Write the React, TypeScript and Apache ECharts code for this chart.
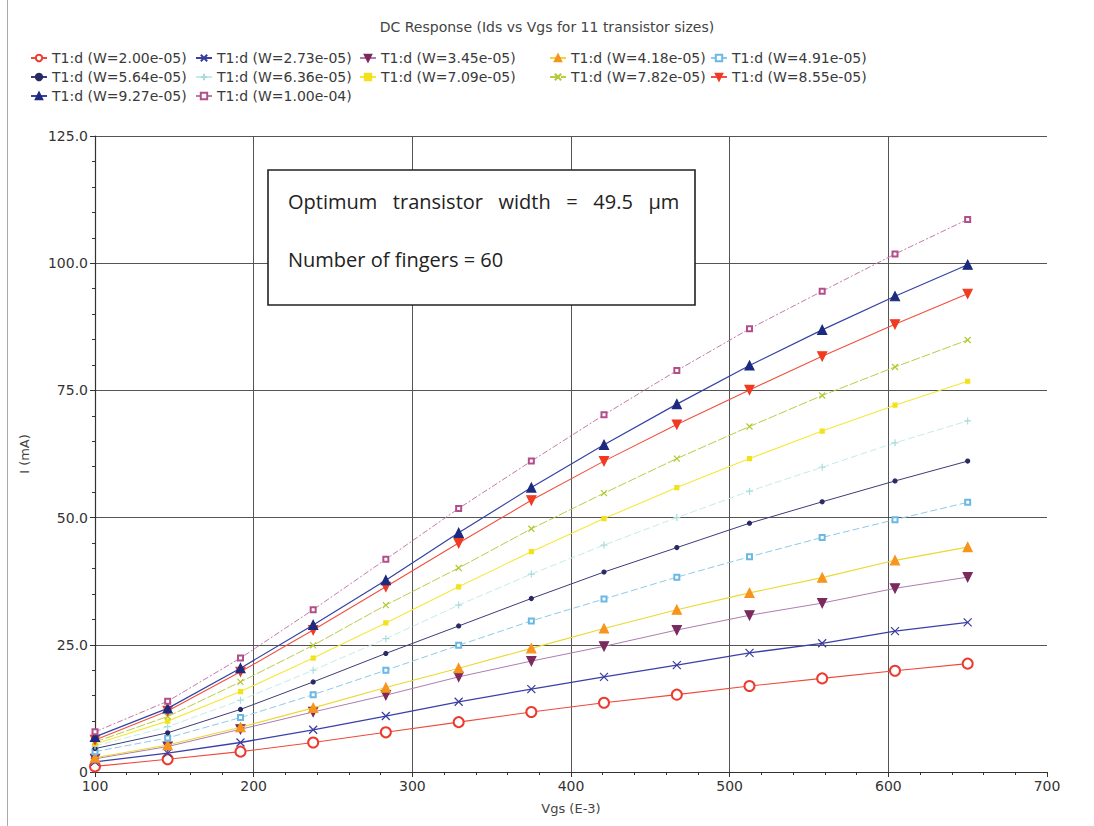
import React, { useEffect, useRef } from "react";
import * as echarts from "echarts";

// Sweep points of the gate voltage (mV)
const VGS = [100, 145.8, 191.7, 237.5, 283.3, 329.2, 375, 420.8, 466.7, 512.5, 558.3, 604.2, 650];

// Drain current (mA) for each transistor width
const W200 = [1.1, 2.5, 4.0, 5.8, 7.8, 9.8, 11.8, 13.6, 15.2, 16.9, 18.4, 19.9, 21.3];
const W273 = [2.0, 3.7, 5.8, 8.3, 11.0, 13.8, 16.3, 18.7, 21.0, 23.4, 25.3, 27.7, 29.4];
const W345 = [2.6, 5.0, 8.4, 11.8, 15.1, 18.7, 21.8, 24.7, 27.9, 30.8, 33.2, 36.1, 38.3];
const W418 = [2.8, 5.3, 8.8, 12.6, 16.6, 20.4, 24.3, 28.2, 31.9, 35.2, 38.2, 41.6, 44.2];
const W491 = [4.0, 6.7, 10.7, 15.2, 20.0, 24.9, 29.7, 34.0, 38.3, 42.3, 46.1, 49.6, 53.0];
const W564 = [4.6, 7.7, 12.3, 17.7, 23.3, 28.7, 34.1, 39.3, 44.1, 48.9, 53.1, 57.2, 61.1];
const W636 = [5.1, 8.9, 14.1, 20.0, 26.2, 32.8, 38.9, 44.6, 50.0, 55.2, 59.9, 64.7, 69.0];
const W709 = [5.5, 10.0, 15.8, 22.4, 29.3, 36.4, 43.3, 49.8, 55.9, 61.6, 67.0, 72.1, 76.8];
const W782 = [5.9, 10.9, 17.7, 24.9, 32.8, 40.1, 47.8, 54.8, 61.6, 67.9, 74.0, 79.6, 84.9];
const W855 = [6.3, 12.0, 19.7, 27.9, 36.4, 45.0, 53.4, 61.1, 68.3, 75.1, 81.7, 88.0, 94.0];
const W927 = [6.9, 12.5, 20.4, 28.9, 37.7, 47.0, 55.9, 64.3, 72.3, 79.9, 86.9, 93.5, 99.7];
const W1000 = [7.9, 13.9, 22.4, 31.9, 41.8, 51.8, 61.1, 70.2, 78.9, 87.1, 94.5, 101.8, 108.6];

const SERIES_NAMES = [
  "T1:d (W=2.00e-05)",
  "T1:d (W=2.73e-05)",
  "T1:d (W=3.45e-05)",
  "T1:d (W=4.18e-05)",
  "T1:d (W=4.91e-05)",
  "T1:d (W=5.64e-05)",
  "T1:d (W=6.36e-05)",
  "T1:d (W=7.09e-05)",
  "T1:d (W=7.82e-05)",
  "T1:d (W=8.55e-05)",
  "T1:d (W=9.27e-05)",
  "T1:d (W=1.00e-04)",
];
const SERIES_VALUES = [W200, W273, W345, W418, W491, W564, W636, W709, W782, W855, W927, W1000];

const TITLE = "DC Response (Ids vs Vgs for 11 transistor sizes)";
const X_NAME = "Vgs (E-3)";
const Y_NAME = "I (mA)";
const NOTE_LINE1 = "Optimum   transistor   width   =   49.5   μm";
const NOTE_LINE2 = "Number of fingers = 60";

const CROSS = "path://M0,0L10,10M10,0L0,10";
const PLUS = "path://M5,0L5,10M0,5L10,5";

// Marker / line look of each trace
const STYLES = [
  { symbol: "emptyCircle", size: 10, mark: "#ee3a2e", line: "#ee4a3a", width: 1.1, dash: "solid" },
  { symbol: CROSS, size: 8, mark: "#3a3c9c", line: "#3a40a8", width: 1.3, dash: "solid" },
  { symbol: "triangle", size: 9, rotate: 180, mark: "#7b2a5e", line: "#b07cb0", width: 1, dash: "solid" },
  { symbol: "triangle", size: 9, mark: "#f7941d", line: "#ecd832", width: 1.1, dash: "solid" },
  { symbol: "emptyRect", size: 5, mark: "#6ab8e4", line: "#8ccbea", width: 1, dash: [7, 3] },
  { symbol: "circle", size: 4, mark: "#2a2a62", line: "#3c3c78", width: 1, dash: "solid" },
  { symbol: PLUS, size: 7, mark: "#a8dcdc", line: "#c4ecec", width: 1, dash: [7, 3] },
  { symbol: "rect", size: 4, mark: "#f2e21c", line: "#f4e83a", width: 1.1, dash: "solid" },
  { symbol: CROSS, size: 6, mark: "#b4c832", line: "#bccc44", width: 1, dash: [9, 2] },
  { symbol: "triangle", size: 9, rotate: 180, mark: "#f03a22", line: "#f0503e", width: 1.1, dash: "solid" },
  { symbol: "triangle", size: 9, mark: "#1c2a80", line: "#3442a4", width: 1.2, dash: "solid" },
  { symbol: "emptyRect", size: 5, mark: "#b24e8a", line: "#c47aa8", width: 1, dash: [6, 2, 2, 2] },
];

// Legend grid: three rows of five columns
const LEGEND_COLS = [30, 195, 359, 549, 710];
const LEGEND_ROWS = [51, 70, 89];

const FONT = "DejaVu Sans";

export default function App() {
  const ref = useRef<HTMLDivElement>(null);

  useEffect(() => {
    if (!ref.current) return;
    const chart = echarts.init(ref.current, undefined, { renderer: "svg" });

    const series = SERIES_NAMES.map((name, i) => {
      const s = STYLES[i];
      return {
        type: "line",
        name,
        data: VGS.map((x, k) => [x, SERIES_VALUES[i][k]]),
        symbol: s.symbol,
        symbolSize: s.size,
        symbolRotate: s.rotate || 0,
        showAllSymbol: true,
        lineStyle: { color: s.line, width: s.width, type: s.dash },
        itemStyle: { color: s.mark, borderColor: s.mark, borderWidth: 1.2 },
        emphasis: { disabled: true },
        z: 3 + i,
      };
    });

    const legends = SERIES_NAMES.map((name, i) => ({
      data: [name],
      left: LEGEND_COLS[i % 5],
      top: LEGEND_ROWS[Math.floor(i / 5)],
      padding: 0,
      itemWidth: 16,
      itemHeight: 8,
      itemGap: 0,
      selectedMode: false,
      textStyle: { fontFamily: FONT, fontSize: 14, color: "#3a3a3a" },
    }));

    chart.setOption({
      animation: false,
      backgroundColor: "#ffffff",
      title: {
        text: TITLE,
        left: "center",
        top: 15,
        textStyle: { fontFamily: FONT, fontSize: 14, fontWeight: "normal", color: "#444" },
      },
      legend: legends,
      grid: { left: 95, right: 47, top: 136, bottom: 54, containLabel: false },
      xAxis: {
        type: "value",
        min: 100,
        max: 700,
        interval: 100,
        name: X_NAME,
        nameLocation: "middle",
        nameGap: 30,
        nameTextStyle: { fontFamily: FONT, fontSize: 13, color: "#444" },
        axisLine: { show: true, onZero: false, lineStyle: { color: "#333", width: 1.2 } },
        axisTick: { show: true, length: 5, lineStyle: { color: "#333" } },
        minorTick: { show: true, splitNumber: 5, length: 3, lineStyle: { color: "#333" } },
        splitLine: { show: true, showMinLine: false, showMaxLine: false, lineStyle: { color: "#555", width: 1 } },
        axisLabel: { fontFamily: FONT, fontSize: 14, color: "#333", margin: 7 },
      },
      yAxis: {
        type: "value",
        min: 0,
        max: 125,
        interval: 25,
        name: Y_NAME,
        nameLocation: "middle",
        nameGap: 64,
        nameRotate: 90,
        nameTextStyle: { fontFamily: FONT, fontSize: 13, color: "#444" },
        axisLine: { show: true, onZero: false, lineStyle: { color: "#333", width: 1.2 } },
        axisTick: { show: true, length: 5, lineStyle: { color: "#333" } },
        minorTick: { show: true, splitNumber: 5, length: 3, lineStyle: { color: "#333" } },
        splitLine: { show: true, showMinLine: false, lineStyle: { color: "#555", width: 1 } },
        axisLabel: {
          fontFamily: FONT,
          fontSize: 14,
          color: "#333",
          margin: 7,
          formatter: (v: number) => (v === 0 ? "0" : v.toFixed(1)),
        },
      },
      graphic: [
        {
          type: "line",
          z: 200,
          shape: { x1: 7.5, y1: 0, x2: 7.5, y2: 826 },
          style: { stroke: "#aaa", lineWidth: 1 },
        },
        {
          type: "rect",
          z: 200,
          shape: { x: 268, y: 170, width: 427, height: 135 },
          style: { fill: "#ffffff", stroke: "#222", lineWidth: 1.6 },
        },
        {
          type: "text",
          z: 201,
          x: 288,
          y: 201,
          style: {
            text: NOTE_LINE1,
            font: '20px "Open Sans"',
            fill: "#222",
            textVerticalAlign: "middle",
          },
        },
        {
          type: "text",
          z: 201,
          x: 288,
          y: 259,
          style: {
            text: NOTE_LINE2,
            font: '20px "Open Sans"',
            fill: "#222",
            textVerticalAlign: "middle",
          },
        },
      ],
      series,
    });

    return () => chart.dispose();
  }, []);

  return (
    <div
      ref={ref}
      style={{ position: "absolute", left: 0, top: 0, width: 1094, height: 826 }}
    />
  );
}
